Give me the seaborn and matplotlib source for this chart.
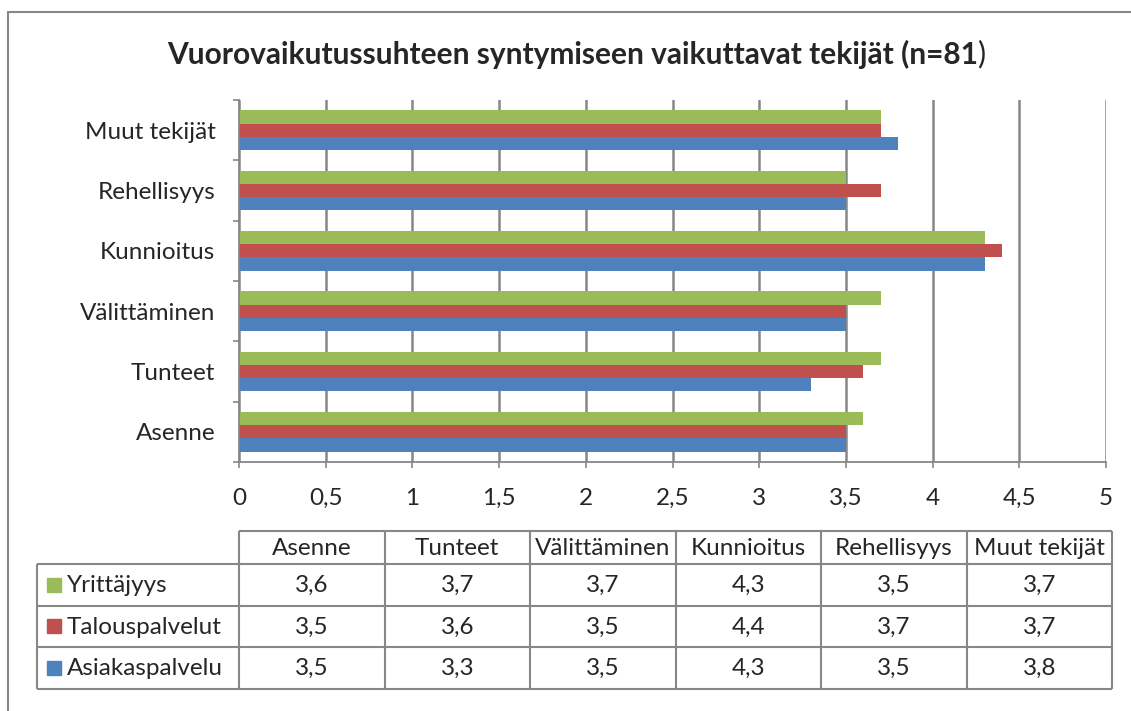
import numpy as np
import pandas as pd
import matplotlib
matplotlib.use("Agg")
import matplotlib.pyplot as plt
from matplotlib.patches import Rectangle
from matplotlib.ticker import FuncFormatter
import seaborn as sns

# Data
categories = ["Asenne", "Tunteet", "Välittäminen", "Kunnioitus", "Rehellisyys", "Muut tekijät"]
series = ["Asiakaspalvelu", "Talouspalvelut", "Yrittäjyys"]
asiakaspalvelu = [3.5, 3.3, 3.5, 4.3, 3.5, 3.8]
talouspalvelut = [3.5, 3.6, 3.5, 4.4, 3.7, 3.7]
yrittajyys = [3.6, 3.7, 3.7, 4.3, 3.5, 3.7]
colors = {"Asiakaspalvelu": "#4F81BD", "Talouspalvelut": "#C0504D", "Yrittäjyys": "#9BBB59"}
title = "Vuorovaikutussuhteen syntymiseen vaikuttavat tekijät (n=81"

values = {"Asiakaspalvelu": asiakaspalvelu, "Talouspalvelut": talouspalvelut, "Yrittäjyys": yrittajyys}
df = pd.DataFrame(
    [(c, s, v) for s in series for c, v in zip(categories, values[s])],
    columns=["category", "series", "value"],
)

sns.set_style("white")
plt.rcParams["font.family"] = ["Lato", "DejaVu Sans"]
grey = "#878787"
fs = 17.5

W, H = 1131, 711
fig = plt.figure(figsize=(W / 100, H / 100), dpi=100)

# -------- BAR CHART --------
ax = fig.add_axes([239 / W, 1 - 462 / H, (1106 - 239) / W, (462 - 100) / H])
sns.barplot(
    data=df, x="value", y="category", hue="series",
    order=categories[::-1], hue_order=series[::-1],
    palette=colors, saturation=1, orient="h", width=0.66, linewidth=0,
    errorbar=None, legend=False, ax=ax,
)
ax.set_xlim(0, 5)
ax.set_ylim(5.5, -0.5)
ax.set_xticks(np.arange(0, 5.01, 0.5))
ax.xaxis.set_major_formatter(FuncFormatter(lambda v, p: f"{v:g}".replace(".", ",")))
ax.set_axisbelow(True)
ax.xaxis.grid(True, color=grey, lw=1.8)
ax.set_xlabel("")
ax.set_ylabel("")
for side in ["top", "right"]:
    ax.spines[side].set_visible(False)
for side in ["left", "bottom"]:
    ax.spines[side].set_color(grey)
    ax.spines[side].set_linewidth(1.3)
ax.set_yticks(np.arange(-0.5, 6, 1), minor=True)
ax.tick_params(axis="y", which="major", length=0, pad=17, labelsize=fs)
ax.tick_params(axis="y", which="minor", length=4.5, width=1.2, color=grey, direction="out", left=True)
ax.tick_params(axis="x", length=4.5, width=1.2, color=grey, direction="out", bottom=True, pad=14, labelsize=fs)

# -------- DATA TABLE (drawn in pixel coordinates) --------
tax = fig.add_axes([0, 0, 1, 1])
tax.set_xlim(0, W)
tax.set_ylim(H, 0)
tax.axis("off")
col_x = np.linspace(239, 1112, len(categories) + 1)
row_y = [531, 564, 605.5, 647, 688.5]
# grid lines
tax.hlines(row_y[0], col_x[0], col_x[-1], color=grey, lw=1.5)
tax.hlines(row_y[1:], 37, col_x[-1], color=grey, lw=1.5)
tax.vlines(37, row_y[1], row_y[-1], color=grey, lw=1.5)
tax.vlines(col_x, row_y[0], row_y[-1], color=grey, lw=1.5)
# header
for j, c in enumerate(categories):
    tax.text((col_x[j] + col_x[j + 1]) / 2, (row_y[0] + row_y[1]) / 2 + 1, c,
             ha="center", va="center", fontsize=fs)
# rows: legend key, series name, values
for i, s in enumerate(series[::-1]):
    yc = (row_y[i + 1] + row_y[i + 2]) / 2
    tax.add_patch(Rectangle((47, yc - 7), 14, 14, color=colors[s]))
    tax.text(67, yc + 1, s, ha="left", va="center", fontsize=fs)
    for j, v in enumerate(values[s]):
        tax.text((col_x[j] + col_x[j + 1]) / 2, yc + 1, f"{v:g}".replace(".", ","),
                 ha="center", va="center", fontsize=fs)

# -------- TITLE --------
fig.text(978 / W, 1 - 54 / H, title, ha="right", va="center", fontsize=21.5, fontweight="bold")
fig.text(978 / W, 1 - 54 / H, ")", ha="left", va="center", fontsize=21.5)

# chart border
fig.patches.append(Rectangle((8 / W, -0.1), 1.2, 1 - 12 / H + 0.1, transform=fig.transFigure,
                             fill=False, edgecolor=grey, lw=1.5))

fig.savefig("out.png", dpi=100)
plt.close()
